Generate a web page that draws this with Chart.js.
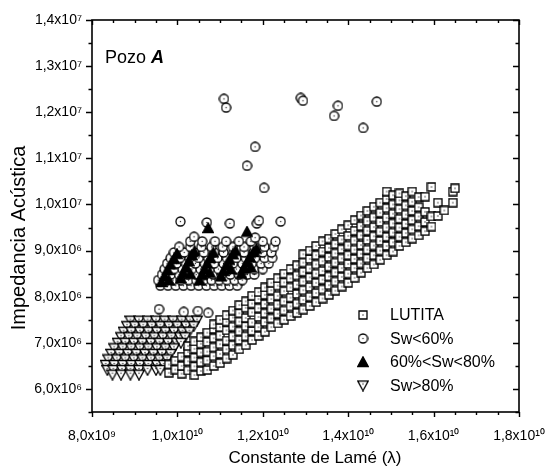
<!DOCTYPE html>
<html>
<head>
<meta charset="utf-8">
<script src="https://cdn.jsdelivr.net/npm/chart.js@4"></script>
<style>
  html, body { margin: 0; padding: 0; background: #fff; }
  canvas { display: block; }
</style>
</head>
<body>
<canvas id="lameChart" width="545" height="473"></canvas>
<script>
// x in units of 1e9, y in units of 1e6
const seriesNames = ['LUTITA', 'Sw<60%', '60%<Sw<80%', 'Sw>80%'];

// LUTITA, read column by column: [x, [y, y, ...]]
const lutitaCols = [
  [9.8,[6.35,6.53]], [9.95,[6.42,6.61]], [10.1,[6.33,6.5,6.7]], [10.25,[6.4,6.6,6.8,6.93]],
  [10.4,[6.3,6.49,6.68,6.87,7.03]], [10.55,[6.39,6.58,6.79,6.98,7.12]],
  [10.7,[6.41,6.62,6.81,7.02,7.22]], [10.85,[6.5,6.71,6.9,7.1,7.3,7.4]],
  [11.0,[6.56,6.76,6.97,7.16,7.34,7.5]], [11.15,[6.66,6.86,7.05,7.27,7.46,7.6]],
  [11.3,[6.74,6.95,7.14,7.35,7.55,7.7]], [11.45,[6.86,7.06,7.25,7.46,7.64,7.82]],
  [11.6,[6.95,7.14,7.36,7.54,7.76,7.9]], [11.75,[7.06,7.26,7.44,7.66,7.85,8.02]],
  [11.9,[7.15,7.34,7.56,7.75,7.95,8.1]], [12.05,[7.24,7.45,7.64,7.84,8.04,8.2]],
  [12.2,[7.34,7.53,7.74,7.95,8.14,8.3]], [12.35,[7.42,7.63,7.83,8.02,8.24,8.4]],
  [12.5,[7.5,7.7,7.9,8.12,8.31,8.5]], [12.65,[7.58,7.79,7.98,8.2,8.4,8.6]],
  [12.8,[7.65,7.85,8.06,8.26,8.46,8.68]], [12.95,[7.72,7.93,8.14,8.33,8.54,8.74,8.92]],
  [13.1,[7.8,8.0,8.21,8.42,8.61,8.82,9.0]], [13.25,[7.88,8.08,8.3,8.5,8.7,8.9,9.1]],
  [13.4,[7.96,8.16,8.37,8.56,8.77,8.98,9.2]], [13.55,[8.04,8.25,8.44,8.65,8.86,9.06,9.26]],
  [13.7,[8.13,8.33,8.53,8.74,8.94,9.14,9.36]], [13.85,[8.22,8.43,8.62,8.83,9.03,9.24,9.46]],
  [14.0,[8.3,8.5,8.71,8.9,9.11,9.32,9.55]], [14.15,[8.41,8.62,8.82,9.02,9.22,9.43,9.66]],
  [14.3,[8.52,8.72,8.93,9.12,9.33,9.53,9.76]], [14.45,[8.62,8.83,9.02,9.23,9.43,9.64,9.86]],
  [14.6,[8.7,8.9,9.11,9.31,9.51,9.72,9.95]], [14.75,[8.8,9.0,9.21,9.41,9.62,9.82,10.04]],
  [14.9,[8.9,9.1,9.3,9.5,9.71,9.92,10.12,10.28]], [15.05,[8.98,9.18,9.39,9.59,9.8,10.0,10.2]],
  [15.2,[9.1,9.3,9.5,9.69,9.9,10.09,10.24]], [15.35,[9.18,9.38,9.58,9.78,9.98,10.18]],
  [15.5,[9.26,9.46,9.66,9.86,10.06,10.28]], [15.65,[9.33,9.53,9.74,9.94,10.16]],
  [15.8,[9.42,9.62,9.84,10.17]], [15.95,[9.52,9.74,10.38]], [16.1,[9.75,10.04]],
  [16.25,[9.87]], [16.45,[10.04,10.28]], [16.5,[10.35]]
];

// Sw<60%, cluster read row by row: [y, [x, x, ...]]
const sw60Rows = [
  [8.24,[9.6,9.78,9.96,10.14,10.32,10.5,10.68,10.86,11.04,11.22,11.4]],
  [8.36,[9.55,9.72,9.9,10.08,10.26,10.44,10.62,10.8,10.98,11.16,11.34,11.52]],
  [8.48,[9.64,9.84,10.04,10.24,10.44,10.64,10.84,11.04,11.24,11.44,11.64,11.8]],
  [8.6,[9.7,9.92,10.12,10.34,10.54,10.76,10.96,11.18,11.38,11.6,11.8,12.0]],
  [8.72,[9.76,9.98,10.2,10.42,10.64,10.86,11.08,11.3,11.52,11.74,11.96,12.14]],
  [8.84,[9.84,10.06,10.28,10.5,10.72,10.94,11.16,11.38,11.6,11.82,12.04,12.22]],
  [8.96,[9.92,10.16,10.4,10.62,10.86,11.08,11.32,11.56,11.78,12.0,12.2]],
  [9.08,[10.04,10.3,10.56,10.8,11.06,11.3,11.56,11.8,12.04,12.26]],
  [9.2,[10.3,10.58,10.88,11.14,11.44,11.72,12.0,12.3]]
];
// Sw<60%, scattered points [x, y]
const sw60Loose = [
  [11.09,12.29],[11.14,12.10],[12.89,12.31],[12.94,12.25],[13.76,12.14],[13.67,11.92],
  [14.67,12.23],[14.35,11.66],[11.82,11.25],[11.63,10.84],[12.03,10.36],
  [10.07,9.63],[10.69,9.61],[11.23,9.59],[11.86,9.59],[12.42,9.63],[11.91,9.65],[10.39,9.30],[11.82,9.28],
  [9.57,7.73],[10.15,7.67],[10.48,7.69],[10.72,7.65]
];

// 60%<Sw<80% [x, y]
const sw6080 = [
  [9.63,8.32],[9.7,8.45],[9.77,8.58],[9.84,8.7],[9.92,8.82],[9.99,8.93],
  [10.08,8.4],[10.14,8.52],[10.2,8.64],[10.27,8.77],[10.34,8.9],[10.4,8.98],
  [10.52,8.36],[10.58,8.48],[10.64,8.6],[10.7,8.72],[10.77,8.84],[10.84,8.96],
  [11.02,8.44],[11.08,8.56],[11.15,8.68],[11.22,8.8],[11.3,8.92],[11.36,9.0],
  [11.5,8.5],[11.56,8.62],[11.63,8.74],[11.7,8.86],[11.78,8.97],[11.85,9.04],
  [9.8,8.36],[10.3,8.5],[10.76,8.52],[11.25,8.6],[11.72,8.64],
  [10.72,9.49],[11.63,9.41]
];

// Sw>80%, read row by row: [y, [x, x, ...]]
const sw80Rows = [
  [7.48,[8.9,9.1,9.3,9.5,9.7,9.9,10.1,10.3,10.46]],
  [7.36,[8.82,9.0,9.2,9.4,9.6,9.8,10.0,10.2,10.38]],
  [7.24,[8.74,8.92,9.12,9.32,9.52,9.72,9.92,10.12,10.28]],
  [7.12,[8.68,8.86,9.06,9.26,9.46,9.66,9.86,10.06,10.18]],
  [7.0,[8.6,8.78,8.98,9.18,9.38,9.58,9.78,9.98,10.08]],
  [6.88,[8.52,8.72,8.92,9.12,9.32,9.52,9.72,9.92]],
  [6.76,[8.45,8.64,8.84,9.04,9.24,9.44,9.64,9.84]],
  [6.64,[8.38,8.58,8.78,8.98,9.18,9.38,9.58,9.76]],
  [6.52,[8.32,8.52,8.72,8.92,9.12,9.32,9.52,9.68]],
  [6.41,[8.36,8.5,8.7,8.9,9.1,9.3,9.5,9.6]],
  [6.31,[8.48,8.68,8.9,9.1]]
];

const FONT = "'Liberation Sans', Arial, sans-serif";

function fromCols(cols) {
  const out = [];
  cols.forEach(([x, ys]) => ys.forEach(y => out.push({ x, y })));
  return out;
}
function fromRows(rows) {
  const out = [];
  rows.forEach(([y, xs]) => xs.forEach(x => out.push({ x, y })));
  return out;
}
function fromPairs(arr) {
  return arr.map(p => ({ x: p[0], y: p[1] }));
}

// hollow markers with the little centre dot, like the Origin symbols
function makeMarker(kind) {
  const s = kind === 'square' ? 10 : (kind === 'circle' ? 11 : 12);
  const c = document.createElement('canvas');
  c.width = s; c.height = s;
  const g = c.getContext('2d');
  g.lineWidth = 1.3;
  g.strokeStyle = '#000';
  g.fillStyle = '#fff';
  const m = s / 2;
  g.beginPath();
  if (kind === 'square') {
    g.rect(1, 1, s - 2, s - 2);
  } else if (kind === 'circle') {
    g.arc(m, m, m - 1, 0, Math.PI * 2);
  } else if (kind === 'up') {
    g.moveTo(m, 0.8); g.lineTo(s - 0.8, s - 1.5); g.lineTo(0.8, s - 1.5); g.closePath();
    g.fillStyle = '#000';
  } else {
    g.moveTo(0.8, 1.5); g.lineTo(s - 0.8, 1.5); g.lineTo(m, s - 0.8); g.closePath();
  }
  g.fill();
  g.stroke();
  if (kind !== 'up') {
    g.fillStyle = '#222';
    const cy = kind === 'down' ? m - 1.5 : m;
    g.fillRect(m - 0.6, cy - 0.6, 1.2, 1.2);
  }
  return c;
}

const markers = [makeMarker('square'), makeMarker('circle'), makeMarker('up'), makeMarker('down')];

function fmtX(v) {
  if (v < 10) return v.toFixed(1).replace('.', ',') + 'x10\u2079';
  return (v / 10).toFixed(1).replace('.', ',') + 'x10\u00b9\u2070';
}
function fmtY(v) {
  if (!Number.isInteger(v)) return '';
  if (v < 10) return v.toFixed(1).replace('.', ',') + 'x10\u2076';
  return (v / 10).toFixed(1).replace('.', ',') + 'x10\u2077';
}

const framePlugin = {
  id: 'frame',
  afterDraw(chart) {
    const c = chart.ctx;
    const { left, right, top, bottom } = chart.chartArea;
    const xs = chart.scales.x, ys = chart.scales.y;
    c.save();
    c.strokeStyle = '#000';
    c.lineWidth = 1.6;
    c.strokeRect(left, top, right - left, bottom - top);
    c.lineWidth = 1.4;
    c.beginPath();
    for (let v = 8; v <= 18.001; v += 0.5) {
      const px = Math.round(xs.getPixelForValue(v)) + 0.5;
      const len = Math.abs(v % 2) < 0.01 ? 5 : 3;
      c.moveTo(px, bottom); c.lineTo(px, bottom + len);
      c.moveTo(px, top); c.lineTo(px, top + len);
    }
    for (let v = 5.5; v <= 14.001; v += 0.5) {
      const py = Math.round(ys.getPixelForValue(v)) + 0.5;
      const len = Number.isInteger(v) ? 6 : 3.5;
      c.moveTo(left - len, py); c.lineTo(left, py);
      c.moveTo(right - len, py); c.lineTo(right, py);
    }
    c.stroke();

    c.fillStyle = '#000';

    // axis titles
    c.textAlign = 'center';
    c.textBaseline = 'middle';
    c.font = '17px ' + FONT;
    c.fillText('Constante de Lamé (λ)', 315, 458);
    c.save();
    c.translate(19, 238);
    c.rotate(-Math.PI / 2);
    c.font = '20px ' + FONT;
    c.fillText('Impedancia Acústica', 0, 0);
    c.restore();

    // Pozo A
    c.textAlign = 'left';
    c.textBaseline = 'alphabetic';
    c.font = '18px ' + FONT;
    c.fillText('Pozo ', 105, 63);
    const w = c.measureText('Pozo ').width;
    c.font = 'italic bold 18px ' + FONT;
    c.fillText('A', 105 + w, 63);

    // legend in the lower right
    const rows = [315, 338.5, 362, 385.5];
    c.font = '16px ' + FONT;
    c.textBaseline = 'middle';
    seriesNames.forEach((name, i) => {
      const mk = markers[i];
      c.drawImage(mk, 363 - mk.width / 2, rows[i] - mk.height / 2);
      c.fillText(name, 390, rows[i] + 1);
    });
    c.restore();
  }
};

const ctx = document.getElementById('lameChart').getContext('2d');

const lameChart = new Chart(ctx, {
  type: 'scatter',
  data: {
    datasets: [
      { label: seriesNames[0], data: fromCols(lutitaCols), pointStyle: markers[0], order: 3 },
      { label: seriesNames[1], data: fromRows(sw60Rows).concat(fromPairs(sw60Loose)), pointStyle: markers[1], order: 2 },
      { label: seriesNames[2], data: fromPairs(sw6080), pointStyle: markers[2], order: 1 },
      { label: seriesNames[3], data: fromRows(sw80Rows), pointStyle: markers[3], order: 4 }
    ]
  },
  options: {
    responsive: false,
    animation: false,
    layout: { padding: { left: 0, right: 26, top: 20, bottom: 0 } },
    plugins: {
      legend: { display: false },
      tooltip: { enabled: false }
    },
    scales: {
      x: {
        type: 'linear',
        min: 8,
        max: 18,
        afterFit(s) { s.height = 61; s.paddingLeft = 0; s.paddingRight = 0; },
        ticks: {
          stepSize: 2,
          padding: 16,
          color: '#000',
          font: { family: FONT, size: 14 },
          maxRotation: 0,
          callback: v => fmtX(v)
        },
        grid: { display: false, drawTicks: false },
        border: { display: false }
      },
      y: {
        type: 'linear',
        min: 5.5,
        max: 14,
        afterFit(s) { s.width = 92; s.paddingTop = 0; s.paddingBottom = 0; },
        ticks: {
          stepSize: 1,
          padding: 10,
          color: '#000',
          autoSkip: false,
          font: { family: FONT, size: 14 },
          callback: v => fmtY(v)
        },
        grid: { display: false, drawTicks: false },
        border: { display: false }
      }
    }
  },
  plugins: [framePlugin]
});
</script>
</body>
</html>
